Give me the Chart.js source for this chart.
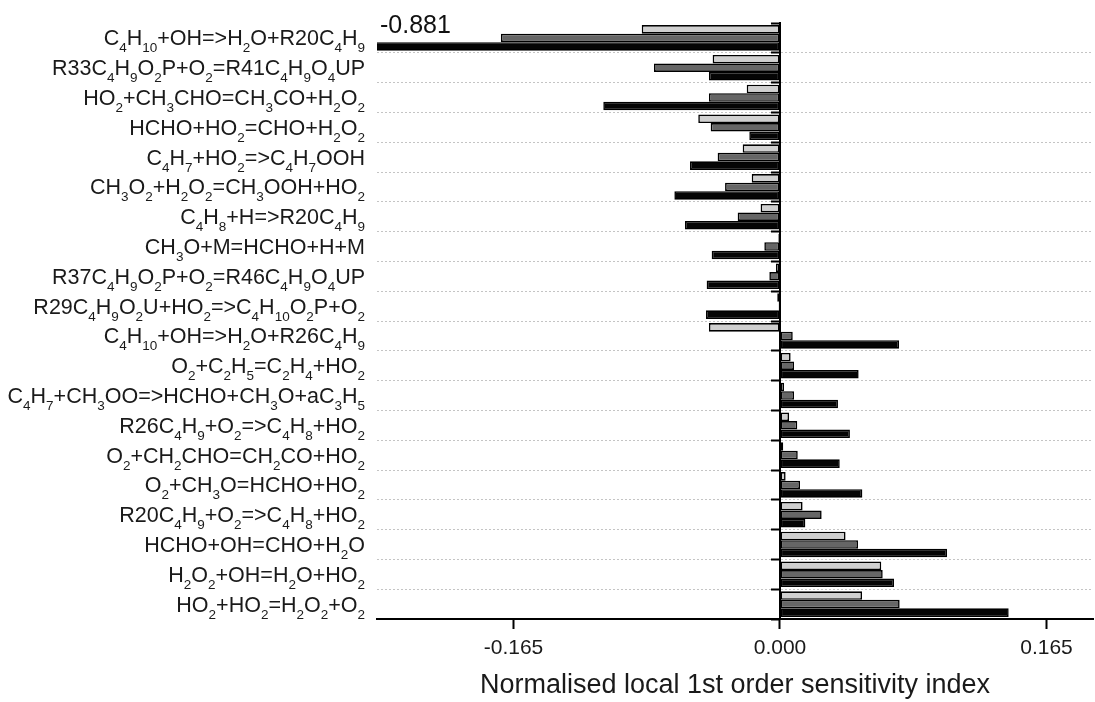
<!DOCTYPE html>
<html>
<head>
<meta charset="utf-8">
<script src="https://cdn.jsdelivr.net/npm/chart.js@4/dist/chart.umd.min.js"></script>
<style>
  body { margin: 0; background: #fff; }
</style>
</head>
<body>
<canvas id="chart" width="1095" height="702"></canvas>
<script>
// "_" followed by digits marks a subscript
const reactions = [
  "C_4H_10+OH=>H_2O+R20C_4H_9",
  "R33C_4H_9O_2P+O_2=R41C_4H_9O_4UP",
  "HO_2+CH_3CHO=CH_3CO+H_2O_2",
  "HCHO+HO_2=CHO+H_2O_2",
  "C_4H_7+HO_2=>C_4H_7OOH",
  "CH_3O_2+H_2O_2=CH_3OOH+HO_2",
  "C_4H_8+H=>R20C_4H_9",
  "CH_3O+M=HCHO+H+M",
  "R37C_4H_9O_2P+O_2=R46C_4H_9O_4UP",
  "R29C_4H_9O_2U+HO_2=>C_4H_10O_2P+O_2",
  "C_4H_10+OH=>H_2O+R26C_4H_9",
  "O_2+C_2H_5=C_2H_4+HO_2",
  "C_4H_7+CH_3OO=>HCHO+CH_3O+aC_3H_5",
  "R26C_4H_9+O_2=>C_4H_8+HO_2",
  "O_2+CH_2CHO=CH_2CO+HO_2",
  "O_2+CH_3O=HCHO+HO_2",
  "R20C_4H_9+O_2=>C_4H_8+HO_2",
  "HCHO+OH=CHO+H_2O",
  "H_2O_2+OH=H_2O+HO_2",
  "HO_2+HO_2=H_2O_2+O_2"
];

const lightSeries = [-0.0856, -0.0417, -0.0206, -0.0506, -0.0231, -0.0175, -0.012, -0.001, -0.0025, -0.0017,
  -0.044, 0.0066, 0.0025, 0.0056, 0.002, 0.0035, 0.014, 0.0406, 0.0627, 0.0508];
const darkSeries = [-0.1728, -0.078, -0.044, -0.0429, -0.0386, -0.034, -0.0262, -0.0097, -0.0066, -0.0008,
  0.0079, 0.0087, 0.0087, 0.0107, 0.011, 0.0124, 0.0258, 0.0483, 0.0636, 0.0741];
const blackSeries = [-0.881, -0.044, -0.1094, -0.019, -0.0557, -0.0654, -0.0588, -0.0423, -0.0454, -0.0458,
  0.0737, 0.0487, 0.0359, 0.0433, 0.037, 0.051, 0.0157, 0.1034, 0.0706, 0.1416];

const xTicks = [-0.165, 0, 0.165];
const xTitle = "Normalised local 1st order sensitivity index";

const FONT = "'Liberation Sans', Arial, sans-serif";

function splitFormula(str) {
  const parts = [];
  let i = 0;
  while (i < str.length) {
    if (str[i] === "_") {
      let j = i + 1;
      while (j < str.length && /[0-9]/.test(str[j])) j++;
      parts.push({ text: str.slice(i + 1, j), sub: true });
      i = j;
    } else {
      let j = i;
      while (j < str.length && str[j] !== "_") j++;
      parts.push({ text: str.slice(i, j), sub: false });
      i = j;
    }
  }
  return parts;
}

// draws the reaction names with subscripts, right aligned at the left margin
const reactionLabels = {
  id: "reactionLabels",
  afterDraw(chart) {
    const ctx = chart.ctx;
    const yScale = chart.scales.y;
    const right = 365;
    ctx.save();
    ctx.fillStyle = "#1a1a1a";
    ctx.textBaseline = "alphabetic";
    ctx.textAlign = "left";
    reactions.forEach((r, i) => {
      const parts = splitFormula(r);
      let w = 0;
      parts.forEach((p) => {
        ctx.font = (p.sub ? "13.5px " : "21.5px ") + FONT;
        p.w = ctx.measureText(p.text).width;
        w += p.w;
      });
      const base = yScale.getPixelForValue(i) + 7.5;
      let x = right - w;
      parts.forEach((p) => {
        ctx.font = (p.sub ? "13.5px " : "21.5px ") + FONT;
        ctx.fillText(p.text, x, p.sub ? base + 7 : base);
        x += p.w;
      });
    });
    ctx.restore();
  }
};

// value of the clipped bar
const clippedValue = {
  id: "clippedValue",
  afterDatasetsDraw(chart) {
    const bar = chart.getDatasetMeta(2).data[0];
    const ctx = chart.ctx;
    ctx.save();
    ctx.font = "25px " + FONT;
    ctx.fillStyle = "#111";
    ctx.textAlign = "left";
    ctx.textBaseline = "alphabetic";
    ctx.fillText(blackSeries[0].toFixed(3), chart.chartArea.left + 3, bar.y - 13);
    ctx.restore();
  }
};

const ctx = document.getElementById("chart").getContext("2d");
const myChart = new Chart(ctx, {
  type: "bar",
  data: {
    labels: reactions,
    datasets: [
      { data: lightSeries, backgroundColor: "#d0d0d0" },
      { data: darkSeries, backgroundColor: "#666666" },
      { data: blackSeries, backgroundColor: "#050505" }
    ]
  },
  options: {
    indexAxis: "y",
    responsive: false,
    animation: false,
    devicePixelRatio: 1,
    layout: { padding: { left: 377, right: 2, top: 23, bottom: 0 } },
    datasets: {
      bar: {
        borderColor: "#000",
        borderWidth: 1.6,
        borderSkipped: false,
        categoryPercentage: 0.86,
        barPercentage: 1
      }
    },
    plugins: {
      legend: { display: false },
      tooltip: { enabled: false }
    },
    scales: {
      x: {
        type: "linear",
        min: -0.2495,
        max: 0.1938,
        afterBuildTicks: (scale) => {
          scale.ticks = xTicks.map((v) => ({ value: v }));
        },
        afterFit: (scale) => {
          scale.height = 83;
        },
        ticks: {
          padding: 7,
          color: "#1a1a1a",
          font: { family: FONT, size: 21 },
          callback: (v) => Number(v).toFixed(3)
        },
        grid: {
          drawOnChartArea: false,
          drawTicks: true,
          tickLength: 10,
          tickColor: "#000",
          tickWidth: 2
        },
        border: { color: "#000", width: 2 },
        title: {
          display: true,
          text: xTitle,
          color: "#1a1a1a",
          font: { family: FONT, size: 27 },
          padding: { top: 0, bottom: 0 }
        }
      },
      y: {
        position: { x: 0 },
        offset: true,
        ticks: { display: false },
        grid: {
          offset: true,
          color: (c) => (c.index === 0 ? "rgba(0,0,0,0)" : "#c4c4c4"),
          lineWidth: 1,
          drawTicks: true,
          tickLength: 8,
          tickColor: "#000",
          tickWidth: 2,
          tickBorderDash: []
        },
        border: { color: "#000", width: 2, dash: [2, 2] }
      }
    }
  },
  plugins: [reactionLabels, clippedValue]
});
</script>
</body>
</html>
